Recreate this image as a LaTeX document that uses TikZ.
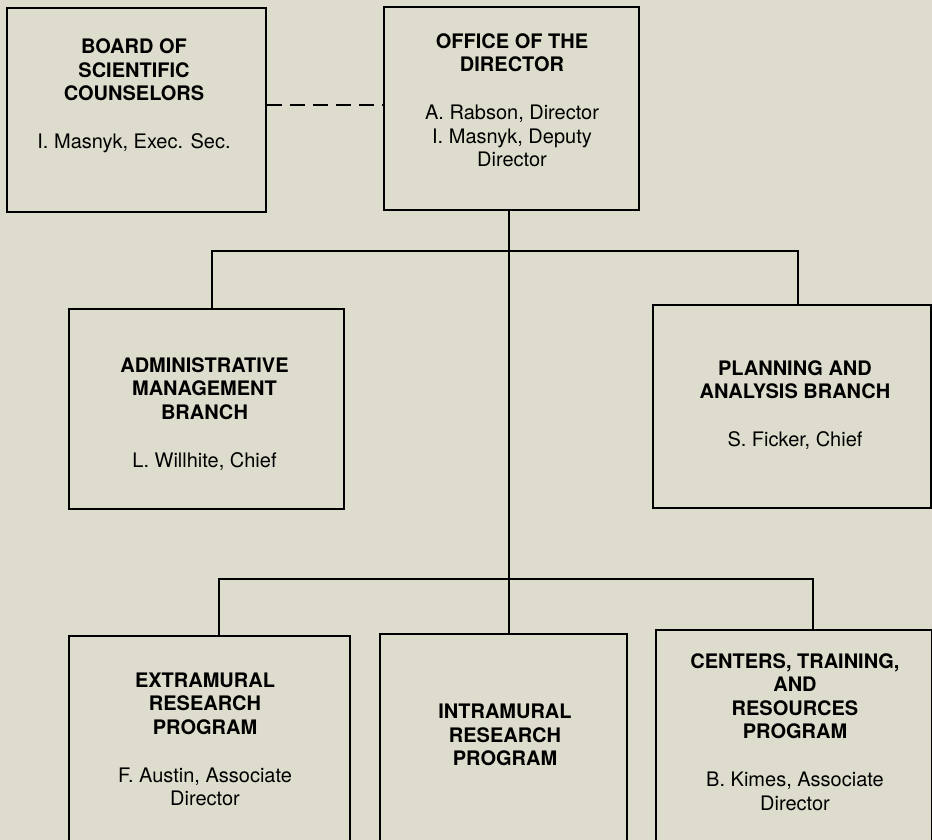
\documentclass[tikz,border=0pt]{standalone}
\usepackage{fontspec}
\setmainfont{TeX Gyre Heros}
\usetikzlibrary{positioning}
\definecolor{paper}{RGB}{222,221,205}

\begin{document}
\begin{tikzpicture}[
        x=1pt, y=-1pt,
        unit/.style={rectangle, draw=black, line width=2.4pt, inner sep=0pt, anchor=north west},
        caption/.style={align=center, inner sep=0pt, font=\fontsize{20}{23.3}\selectfont},
        link/.style={draw=black, line width=2pt},
        dashlink/.style={link, dash pattern=on 15pt off 8pt}
    ]
        % Page
        \fill[paper] (0,0) rectangle (932,840);
        \useasboundingbox (0,0) rectangle (932,840);
        \clip (0,0) rectangle (932,840);

        % Top level - Board and Office
        \node[unit, minimum width=259pt, minimum height=204pt] (board) at (6,7) {};
        \node[unit, minimum width=255pt, minimum height=203pt] (office) at (383,6) {};

        % Second level - Branches
        \node[unit, minimum width=275pt, minimum height=200pt] (admin) at (68,308) {};
        \node[unit, minimum width=278pt, minimum height=203pt] (planning) at (652,304) {};

        % Third level - Programs (run off the page)
        \node[unit, minimum width=281pt, minimum height=230pt] (extra) at (68,635) {};
        \node[unit, minimum width=247pt, minimum height=230pt] (intra) at (379,633) {};
        \node[unit, minimum width=276pt, minimum height=230pt] (centers) at (655,629) {};

        % Texts
        \node[caption] (boardtext) at (134,96) {\textbf{BOARD OF}\\\textbf{SCIENTIFIC}\\\textbf{COUNSELORS}\\[25pt]I. Masnyk, Exec. Sec.};
        \node[caption] (officetext) at (512,100) {\textbf{OFFICE OF THE}\\\textbf{DIRECTOR}\\[25pt]A. Rabson, Director\\I. Masnyk, Deputy\\Director};
        \node[caption] (admintext) at (204.5,414) {\textbf{ADMINISTRATIVE}\\\textbf{MANAGEMENT}\\\textbf{BRANCH}\\[25pt]L. Willhite, Chief};
        \node[caption] (planningtext) at (795,405) {\textbf{PLANNING AND}\\\textbf{ANALYSIS BRANCH}\\[25pt]S. Ficker, Chief};
        \node[caption] (extratext) at (205,739.5) {\textbf{EXTRAMURAL}\\\textbf{RESEARCH}\\\textbf{PROGRAM}\\[25pt]F. Austin, Associate\\Director};
        \node[caption] (intratext) at (505,735) {\textbf{INTRAMURAL}\\\textbf{RESEARCH}\\\textbf{PROGRAM}};
        \node[caption] (centerstext) at (795,732) {\textbf{CENTERS, TRAINING,}\\\textbf{AND}\\\textbf{RESOURCES}\\\textbf{PROGRAM}\\[25pt]B. Kimes, Associate\\Director};

        % Bus points
        \coordinate (upbus) at (509,251);
        \coordinate (lowbus) at (509,579);

        % Relationships
        \draw[dashlink] ([yshift=5pt]board.east) -- ([yshift=5pt]board.east -| office.west);
        \draw[link] (office.south -| upbus) -- (upbus |- intra.north);
        \draw[link] ([xshift=5pt]admin.north) |- (upbus) -| ([xshift=6pt]planning.north);
        \draw[link] ([xshift=9.5pt]extra.north) |- (lowbus) -| ([xshift=19pt]centers.north);
    \end{tikzpicture}
\end{document}
